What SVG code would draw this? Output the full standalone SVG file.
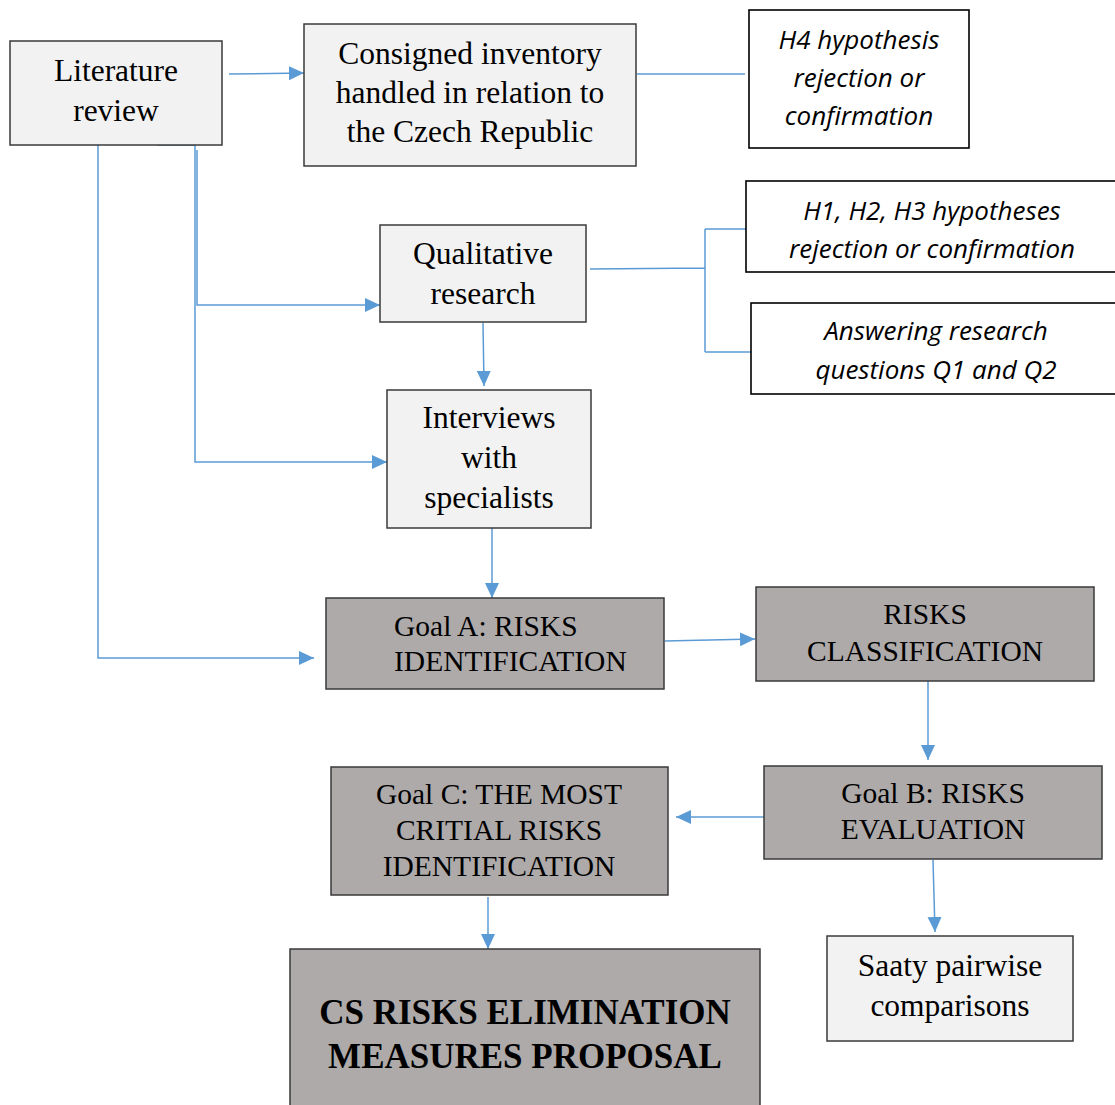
<svg xmlns="http://www.w3.org/2000/svg" width="1115" height="1105" viewBox="0 0 1115 1105">
  <style>
    .light { fill: #f2f2f2; stroke: #3a3a3a; stroke-width: 1.5; }
    .dark { fill: #aeaaaa; stroke: #3a3a3a; stroke-width: 1.5; }
    .note { fill: #ffffff; stroke: #000000; stroke-width: 1.6; }
    .serif { font-family: "Liberation Serif", "Times New Roman", serif; font-size: 31.5px; fill: #000; text-anchor: middle; }
    .caps { font-family: "Liberation Serif", "Times New Roman", serif; font-size: 29.5px; fill: #000; text-anchor: middle; }
    .left { text-anchor: start; }
    .bold { font-family: "Liberation Serif", "Times New Roman", serif; font-size: 35px; font-weight: bold; fill: #000; text-anchor: middle; }
    .ital { font-family: "Open Sans", "Liberation Sans", sans-serif; font-size: 26px; font-style: italic; fill: #000; text-anchor: middle; }
    .link { fill: none; stroke: #5b9bd5; stroke-width: 1.5; }
    .arrow { marker-end: url(#head); }
  </style>
  <defs>
    <marker id="head" markerUnits="userSpaceOnUse" markerWidth="16" markerHeight="16" refX="15" refY="7" orient="auto">
      <path d="M0,0 L15,7 L0,14 Z" fill="#5b9bd5"/>
    </marker>
  </defs>
  <rect width="1115" height="1105" fill="#ffffff"/>

  <g id="connectors">
    <path class="link arrow" d="M229,74 L304,73"/>
    <path class="link" d="M637,74 L745,74"/>
    <path class="link" d="M590,269 L705,268 M705,229 L705,352 M705,229 L746,229 M705,352 L751,352"/>
    <path class="link" d="M157,145 L195,145"/>
    <path class="link arrow" d="M195,145 L195,462 L387,462"/>
    <path class="link arrow" d="M197,150 L197,305 L380,305"/>
    <path class="link arrow" d="M98,145 L98,658 L314,658"/>
    <path class="link arrow" d="M483,323 L484,386"/>
    <path class="link arrow" d="M492,528 L492,598"/>
    <path class="link arrow" d="M665,641 L755,639"/>
    <path class="link arrow" d="M928,681 L928,760"/>
    <path class="link arrow" d="M764,817 L676,817"/>
    <path class="link arrow" d="M933,860 L935,932"/>
    <path class="link arrow" d="M488,897 L488,949"/>
  </g>

  <g id="literature-review">
    <rect class="light" x="10" y="41" width="212" height="104"/>
    <text class="serif" x="116" y="81">Literature</text>
    <text class="serif" x="116" y="121">review</text>
  </g>

  <g id="consigned-inventory">
    <rect class="light" x="304" y="24" width="332" height="142"/>
    <text class="serif" x="470" y="64">Consigned inventory</text>
    <text class="serif" x="470" y="103">handled in relation to</text>
    <text class="serif" x="470" y="142">the Czech Republic</text>
  </g>

  <g id="h4-hypothesis">
    <rect class="note" x="749" y="10" width="220" height="138"/>
    <text class="ital" x="859" y="49">H4 hypothesis</text>
    <text class="ital" x="859" y="87">rejection or</text>
    <text class="ital" x="859" y="125">confirmation</text>
  </g>

  <g id="h1-h3-hypotheses">
    <rect class="note" x="746" y="181" width="375" height="91"/>
    <text class="ital" x="932" y="220">H1, H2, H3 hypotheses</text>
    <text class="ital" x="932" y="258">rejection or confirmation</text>
  </g>

  <g id="research-questions">
    <rect class="note" x="751" y="303" width="370" height="91"/>
    <text class="ital" x="936" y="340">Answering research</text>
    <text class="ital" x="936" y="379">questions Q1 and Q2</text>
  </g>

  <g id="qualitative-research">
    <rect class="light" x="380" y="225" width="206" height="97"/>
    <text class="serif" x="483" y="264">Qualitative</text>
    <text class="serif" x="483" y="304">research</text>
  </g>

  <g id="interviews">
    <rect class="light" x="387" y="390" width="204" height="138"/>
    <text class="serif" x="489" y="428">Interviews</text>
    <text class="serif" x="489" y="468">with</text>
    <text class="serif" x="489" y="508">specialists</text>
  </g>

  <g id="goal-a">
    <rect class="dark" x="326" y="598" width="338" height="91"/>
    <text class="caps left" x="394" y="636">Goal A: RISKS</text>
    <text class="caps left" x="394" y="671">IDENTIFICATION</text>
  </g>

  <g id="risks-classification">
    <rect class="dark" x="756" y="587" width="338" height="94"/>
    <text class="caps" x="925" y="624">RISKS</text>
    <text class="caps" x="925" y="661">CLASSIFICATION</text>
  </g>

  <g id="goal-b">
    <rect class="dark" x="764" y="766" width="338" height="93"/>
    <text class="caps" x="933" y="803">Goal B: RISKS</text>
    <text class="caps" x="933" y="839">EVALUATION</text>
  </g>

  <g id="goal-c">
    <rect class="dark" x="331" y="767" width="337" height="128"/>
    <text class="caps" x="499" y="804">Goal C: THE MOST</text>
    <text class="caps" x="499" y="840">CRITIAL RISKS</text>
    <text class="caps" x="499" y="876">IDENTIFICATION</text>
  </g>

  <g id="measures-proposal">
    <rect class="dark" x="290" y="949" width="470" height="170"/>
    <text class="bold" x="525" y="1024">CS RISKS ELIMINATION</text>
    <text class="bold" x="525" y="1068">MEASURES PROPOSAL</text>
  </g>

  <g id="saaty">
    <rect class="light" x="827" y="936" width="246" height="105"/>
    <text class="serif" x="950" y="976">Saaty pairwise</text>
    <text class="serif" x="950" y="1016">comparisons</text>
  </g>
</svg>
